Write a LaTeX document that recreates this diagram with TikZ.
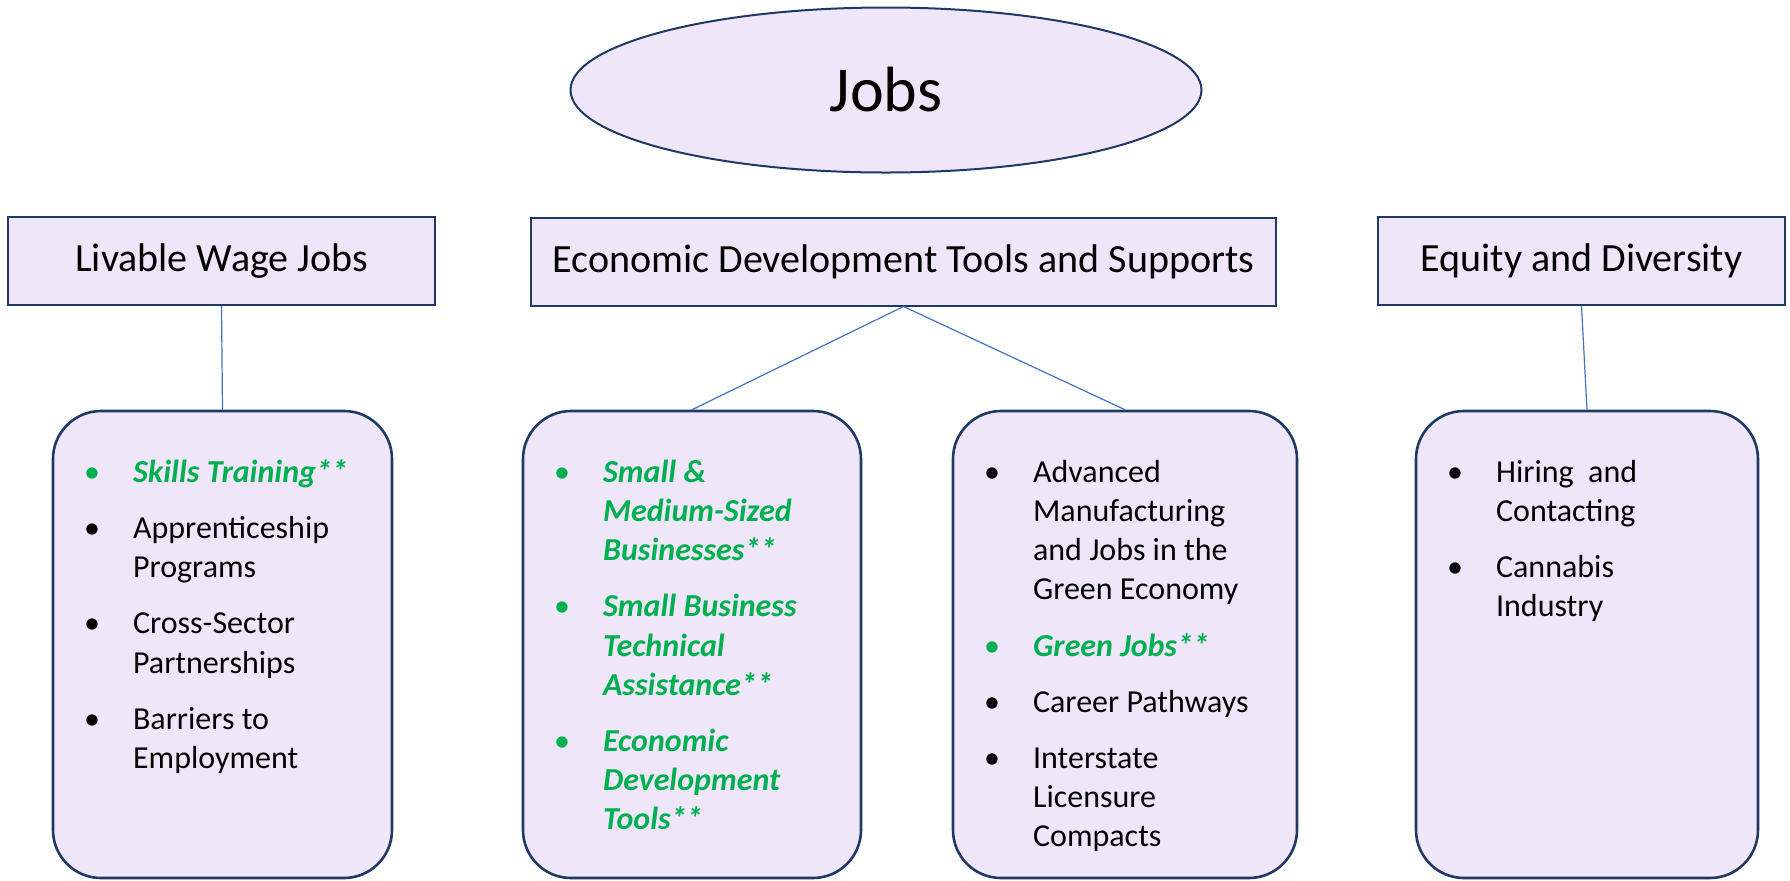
\documentclass[tikz,border=0pt]{standalone}
\usepackage{fontspec}
\setmainfont{Carlito}
\usepackage{xcolor}
\usepackage{tikz}
\usetikzlibrary{shapes.geometric, positioning}

\definecolor{lav}{RGB}{239,231,249}
\definecolor{navy}{RGB}{32,56,100}
\definecolor{linkblue}{RGB}{68,114,196}
\definecolor{grn}{RGB}{0,176,80}

% one bullet point, black or green
\newcommand{\bitem}[1]{\par\spaceskip=0pt\xspaceskip=0pt
  \noindent\hangindent=24.5pt\hangafter=1
  \makebox[24.5pt][l]{\textbullet}#1\par\vspace{8.5pt}}
\newcommand{\gitem}[1]{\par\spaceskip=0pt\xspaceskip=0pt
  \noindent\hangindent=24.5pt\hangafter=1
  {\color{grn}\makebox[24.5pt][l]{\textbullet}\bfseries\itshape #1}\par\vspace{8.5pt}}

\begin{document}
\begin{tikzpicture}[
    x=0.5pt, y=-0.5pt,
    hbox/.style={
      rectangle, draw=navy, line width=1pt, fill=lav,
      minimum height=44pt, font=\fontsize{20}{24}\selectfont
    },
    topic/.style={
      rectangle, rounded corners=24pt, draw=navy, line width=1.3pt,
      fill=lav, minimum height=233.5pt
    },
    items/.style={
      text width=150pt, inner sep=0pt, align=left,
      font=\fontsize{16}{19.6}\selectfont
    },
    link/.style={draw=linkblue, line width=0.6pt}
  ]
  \useasboundingbox (0,0) rectangle (1790,880);

  \node[ellipse, draw=navy, line width=1pt, fill=lav,
        minimum width=315.5pt, minimum height=82.5pt,
        font=\fontsize{32}{38}\selectfont] (jobs) at (886,90) {Jobs};

  \node[hbox, minimum width=213.5pt] (wage) at (221.5,261) {Livable Wage Jobs};
  \node[hbox, minimum width=372.5pt] (econ) at (903.5,261.5)
        {Economic Development Tools and Supports};
  \node[hbox, minimum width=203.5pt] (equity) at (1581.5,261) {Equity and Diversity};

  \node[topic, minimum width=169.5pt] (skills)  at (222.5,644.5) {};
  \node[topic, minimum width=169pt]   (smallb)  at (692,644.5) {};
  \node[topic, minimum width=172pt]   (green)   at (1125,644.5) {};
  \node[topic, minimum width=171pt]   (hiring)  at (1587,644.5) {};

  \node[items, below right=16.5pt and 16pt of skills.north west] (skillst) {%
    \gitem{Skills Training**}
    \bitem{Apprenticeship\newline Programs}
    \bitem{Cross-Sector\newline Partnerships}
    \bitem{Barriers to\newline Employment}};

  \node[items, below right=16.5pt and 16pt of smallb.north west] (smallbt) {%
    \gitem{Small \&\newline Medium-Sized\newline Businesses**}
    \gitem{Small Business\newline Technical\newline Assistance**}
    \gitem{Economic\newline Development\newline Tools**}};

  \node[items, below right=16.5pt and 16pt of green.north west] (greent) {%
    \bitem{Advanced\newline Manufacturing\newline and Jobs in the\newline Green Economy}
    \gitem{Green Jobs**}
    \bitem{Career Pathways}
    \bitem{Interstate\newline Licensure\newline Compacts}};

  \node[items, below right=16.5pt and 16pt of hiring.north west] (hiringt) {%
    \bitem{Hiring~ and\newline Contacting}
    \bitem{Cannabis\newline Industry}};

  \draw[link] (wage.south)   -- (skills.north);
  \draw[link] (econ.south)   -- (smallb.north);
  \draw[link] (econ.south)   -- (green.north);
  \draw[link] (equity.south) -- (hiring.north);

\end{tikzpicture}
\end{document}
